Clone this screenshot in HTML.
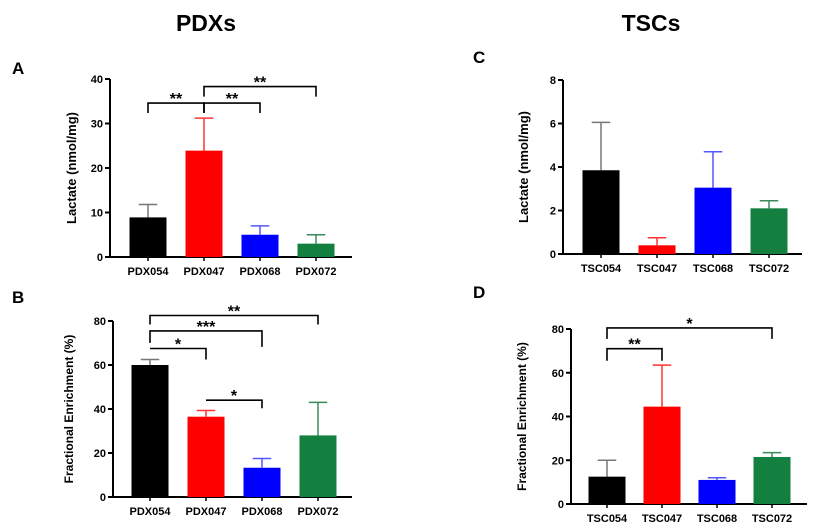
<!DOCTYPE html>
<html><head><meta charset="utf-8"><style>
body{margin:0;background:#fff;}
svg{display:block;font-family:"Liberation Sans",Arial,sans-serif;font-weight:bold;}
</style></head><body>
<svg id="fig" width="835" height="526" viewBox="0 0 835 526">
<text x="206" y="31" font-size="23" text-anchor="middle">PDXs</text>
<text x="651" y="31" font-size="23" text-anchor="middle">TSCs</text>
<text x="12" y="74" font-size="17">A</text>
<text x="12" y="303" font-size="17">B</text>
<text x="473" y="63" font-size="17">C</text>
<text x="473" y="298" font-size="17">D</text>
</svg>
<script>
const colors = ['#000000', '#ff0000', '#0000ff', '#138040'];
const errColors = ['#777777', '#ff3333', '#5555ff', '#3a8a5a'];
const pdxCategories = ['PDX054', 'PDX047', 'PDX068', 'PDX072'];
const tscCategories = ['TSC054', 'TSC047', 'TSC068', 'TSC072'];
const aValues = [8.9, 23.9, 5.0, 3.0];
const aErrors = [11.8, 31.2, 7.0, 5.0];
const aTicks = [0, 10, 20, 30, 40];
const bValues = [60, 36.5, 13.3, 28];
const bErrors = [62.5, 39.3, 17.5, 43];
const bTicks = [0, 20, 40, 60, 80];
const cValues = [3.85, 0.4, 3.05, 2.1];
const cErrors = [6.05, 0.75, 4.7, 2.45];
const cTicks = [0, 2, 4, 6, 8];
const dValues = [12.5, 44.5, 11, 21.5];
const dErrors = [20, 63.5, 12, 23.5];
const dTicks = [0, 20, 40, 60, 80];
// brackets: [fromIndex, toIndex, y in data units, leftLegDrop, rightLegDrop, stars]
const aBrackets = [[0, 1, 34.6, 10, 10, '**'], [1, 2, 34.6, 10, 10, '**'], [1, 3, 38.3, 10, 10, '**']];
const bBrackets = [[0, 3, 82.5, 9, 9, '**'], [0, 2, 75.5, 12, 16, '***'], [0, 1, 67.5, 0, 11, '*'], [1, 2, 44, 0, 8, '*']];
const dBrackets = [[0, 3, 80.5, 11, 11, '*'], [0, 1, 71, 12, 12, '**']];

const NS = 'http://www.w3.org/2000/svg';
const svg = document.getElementById('fig');
function mk(tag, attrs, parent) {
  const e = document.createElementNS(NS, tag);
  for (const k in attrs) e.setAttribute(k, attrs[k]);
  (parent || svg).appendChild(e);
  return e;
}
function panel(p) {
  const g = mk('g', {});
  
  
  const y = v => p.y0 - (v / p.max) * (p.y0 - p.yTop);
  const x = i => p.firstX + i * p.step;
  const axY = mk('line', {x1: p.axisX, y1: p.yTop, x2: p.axisX, y2: p.y0 + 1, stroke: '#000', 'stroke-width': 2}, g);
  
  
  const axX = mk('line', {x1: p.axisX - 1, y1: p.y0, x2: p.axisEnd, y2: p.y0, stroke: '#000', 'stroke-width': 2}, g);
  
  
  p.ticks.forEach(t => {
    mk('line', {x1: p.axisX - 5, y1: y(t), x2: p.axisX, y2: y(t), stroke: '#000', 'stroke-width': 2}, g);
    const tl = mk('text', {x: p.axisX - 7, y: y(t) + 4, 'font-size': 11, 'text-anchor': 'end'}, g);
    tl.textContent = t;
    
    
  });
  const yl = mk('text', {x: 0, y: 0, 'font-size': p.titleSize, 'text-anchor': 'middle', transform: `translate(${p.titleX},${(p.y0 + p.yTop) / 2}) rotate(-90)`}, g);
  yl.textContent = p.title;
  
  
  p.cats.forEach((c, i) => {
    const cx = x(i), bw = p.barW;
    const eb = mk('line', {x1: cx, y1: y(p.vals[i]), x2: cx, y2: y(p.errs[i]), stroke: errColors[i], 'stroke-width': 1.5}, g);
    
    
    mk('line', {x1: cx - bw / 4, y1: y(p.errs[i]), x2: cx + bw / 4, y2: y(p.errs[i]), stroke: errColors[i], 'stroke-width': 1.5}, g);
    const r = mk('rect', {x: cx - bw / 2, y: y(p.vals[i]), width: bw, height: p.y0 - y(p.vals[i]), fill: colors[i]}, g);
    
    
    mk('line', {x1: cx, y1: p.y0, x2: cx, y2: p.y0 + 4, stroke: '#000', 'stroke-width': 1.5}, g);
    const xl = mk('text', {x: cx, y: p.y0 + 18, 'font-size': 11, 'text-anchor': 'middle'}, g);
    xl.textContent = c;
    
    
  });
  (p.brackets || []).forEach(b => {
    const x1 = x(b[0]), x2 = x(b[1]), by = y(b[2]);
    const pth = mk('path', {d: `M${x1} ${by + b[3]} V${by} H${x2} V${by + b[4]}`, fill: 'none', stroke: '#000', 'stroke-width': 1.6}, g);
    
    
    const st = mk('text', {x: (x1 + x2) / 2, y: by + 1, 'font-size': 16, 'text-anchor': 'middle'}, g);
    st.textContent = b[5];
    
    
  });
}
panel({name: 'panel-a-chart', cats: pdxCategories, vals: aValues, errs: aErrors, ticks: aTicks, max: 40, y0: 257, yTop: 79, axisX: 110, axisEnd: 352, firstX: 148, step: 56, barW: 37, title: 'Lactate (nmol/mg)', titleX: 76, titleSize: 13, brackets: aBrackets});
panel({name: 'panel-b-chart', cats: pdxCategories, vals: bValues, errs: bErrors, ticks: bTicks, max: 80, y0: 497, yTop: 321, axisX: 113, axisEnd: 352, firstX: 150, step: 56, barW: 37, title: 'Fractional Enrichment (%)', titleX: 73, titleSize: 12, brackets: bBrackets});
panel({name: 'panel-c-chart', cats: tscCategories, vals: cValues, errs: cErrors, ticks: cTicks, max: 8, y0: 254, yTop: 80, axisX: 563, axisEnd: 802, firstX: 601, step: 56, barW: 37, title: 'Lactate (nmol/mg)', titleX: 528, titleSize: 13});
panel({name: 'panel-d-chart', cats: tscCategories, vals: dValues, errs: dErrors, ticks: dTicks, max: 80, y0: 504, yTop: 329, axisX: 571, axisEnd: 807, firstX: 607, step: 55, barW: 37, title: 'Fractional Enrichment (%)', titleX: 526, titleSize: 12, brackets: dBrackets});
</script>
</body></html>
